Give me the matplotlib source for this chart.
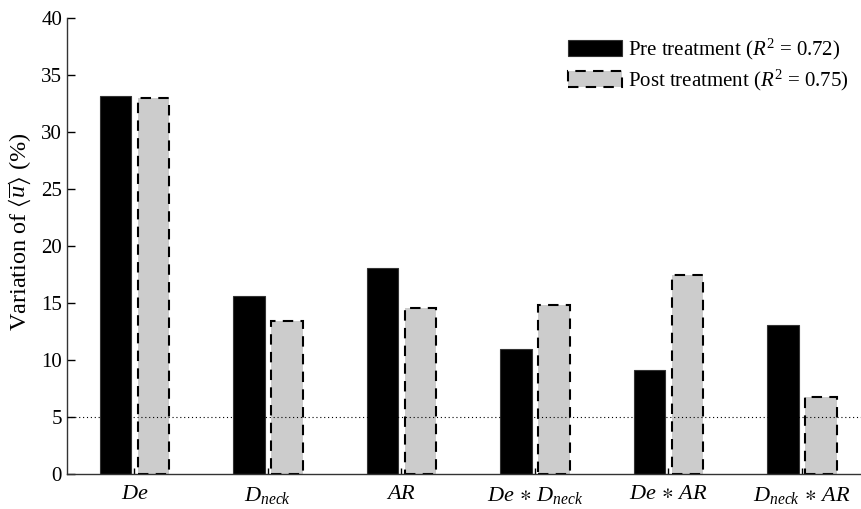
import matplotlib
matplotlib.use("Agg")
import matplotlib.pyplot as plt
import numpy as np

categories = [r"$De$", r"$D_{neck}$", r"$AR$", r"$De\,\ast\,D_{neck}$", r"$De\,\ast\,AR$", r"$D_{neck}\,\ast\,AR$"]
pre_values = [33.15, 15.6, 18.0, 10.95, 9.1, 13.0]
post_values = [32.95, 13.4, 14.5, 14.8, 17.4, 6.7]
pre_label = r"Pre treatment ($R^2$ = 0.72)"
post_label = r"Post treatment ($R^2$ = 0.75)"
threshold = 5
yticks = [0, 5, 10, 15, 20, 25, 30, 35, 40]

plt.rcParams['font.family'] = ['Liberation Serif', 'DejaVu Serif']
plt.rcParams['mathtext.fontset'] = 'custom'
plt.rcParams['mathtext.rm'] = 'Liberation Serif'
plt.rcParams['mathtext.it'] = 'Liberation Serif:italic'
plt.rcParams['mathtext.bf'] = 'Liberation Serif:bold'
plt.rcParams['mathtext.fallback'] = 'stix'

fig = plt.figure(figsize=(8.62, 5.09), dpi=100)
ax = fig.add_axes([0.0777, 0.0697, 0.9223, 0.8953])

x = np.arange(len(categories))
w = 0.236
off = 0.142
ax.bar(x - off, pre_values, width=w, color='black', edgecolor='#333333', linewidth=0.8,
       label=pre_label, zorder=2)
ax.bar(x + off, post_values, width=w, color='#cccccc', edgecolor='black', linewidth=1.5,
       linestyle=(0, (5, 3.5)), label=post_label, zorder=2)

ax.axhline(threshold, color='black', linestyle=(0, (1, 2.5)), linewidth=0.8, zorder=3)

ax.set_xlim(-0.505, 5.45)
ax.set_ylim(0, 40)
ax.set_yticks(yticks)
ax.set_xticks(x)
ax.set_xticklabels(categories, fontsize=16)
ax.tick_params(axis='y', direction='in', length=6, labelsize=15, width=1)
ax.tick_params(axis='x', direction='in', length=4, labelsize=16, width=1, pad=8)
for s in ['top', 'right']:
    ax.spines[s].set_visible(False)
for s in ['left', 'bottom']:
    ax.spines[s].set_linewidth(1.0)
    ax.spines[s].set_color('#333333')

ax.set_ylabel(r"Variation of $\langle\overline{u}\rangle$ (%)", fontsize=17.5, labelpad=6)
ax.yaxis.label.set_y(0.53)

ax.legend(loc='upper left', bbox_to_anchor=(0.607, 1.0), frameon=False, fontsize=15,
          handlelength=2.6, handleheight=0.85, handletextpad=0.25, labelspacing=0.28)

fig.savefig("out.png", dpi=100)
